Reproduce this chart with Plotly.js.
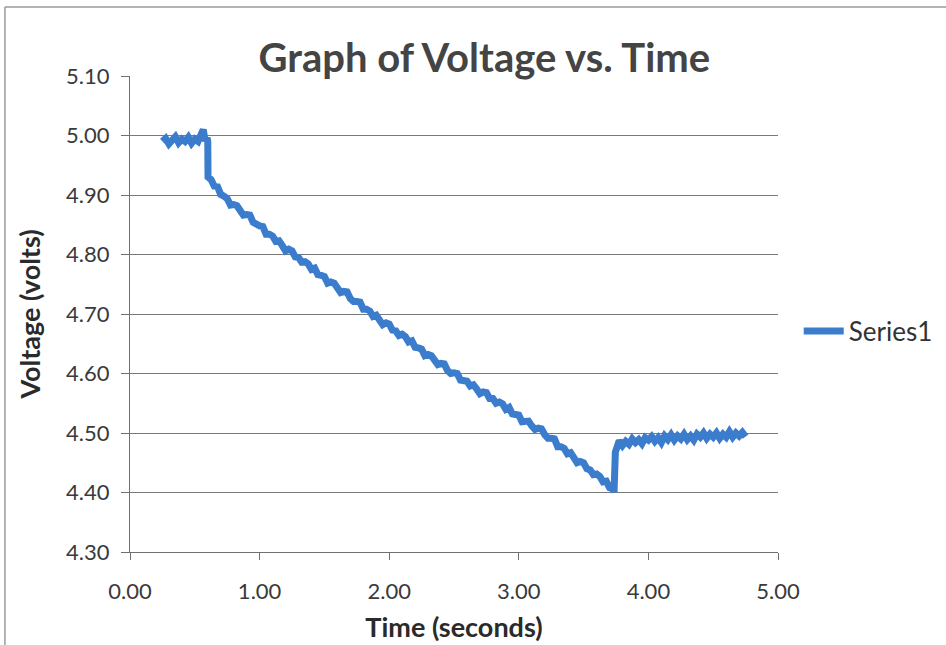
<!DOCTYPE html>
<html>
<head>
<meta charset="utf-8">
<script src="https://cdn.plot.ly/plotly-3.0.1.min.js"></script>
<style>
  html, body { margin: 0; padding: 0; background: #ffffff; }
  #chart { width: 946px; height: 645px; }
</style>
</head>
<body>
<div id="chart"></div>
<script>
// Logged voltage samples (seconds, volts)
const timeSeconds = [
  0.250, 0.275, 0.300, 0.325, 0.350, 0.375, 0.400, 0.425, 0.450, 0.475,
  0.500, 0.525, 0.550, 0.565, 0.580, 0.595, 0.600, 0.602,
  0.625, 0.650, 0.675, 0.700, 0.725, 0.750, 0.775, 0.800, 0.825, 0.850,
  0.875, 0.900, 0.925, 0.950, 0.975, 1.000, 1.025, 1.050, 1.075, 1.100,
  1.125, 1.150, 1.175, 1.200, 1.225, 1.250, 1.275, 1.300, 1.325, 1.350,
  1.375, 1.400, 1.425, 1.450, 1.475, 1.500, 1.525, 1.550, 1.575, 1.600,
  1.625, 1.650, 1.675, 1.700, 1.725, 1.750, 1.775, 1.800, 1.825, 1.850,
  1.875, 1.900, 1.925, 1.950, 1.975, 2.000, 2.025, 2.050, 2.075, 2.100,
  2.125, 2.150, 2.175, 2.200, 2.225, 2.250, 2.275, 2.300, 2.325, 2.350,
  2.375, 2.400, 2.425, 2.450, 2.475, 2.500, 2.525, 2.550, 2.575, 2.600,
  2.625, 2.650, 2.675, 2.700, 2.725, 2.750, 2.775, 2.800, 2.825, 2.850,
  2.875, 2.900, 2.925, 2.950, 2.975, 3.000, 3.025, 3.050, 3.075, 3.100,
  3.125, 3.150, 3.175, 3.200, 3.225, 3.250, 3.275, 3.300, 3.325, 3.350,
  3.375, 3.400, 3.425, 3.450, 3.475, 3.500, 3.525, 3.550, 3.575, 3.600,
  3.625, 3.650, 3.675, 3.700, 3.725, 3.735, 3.745, 3.760,
  3.775, 3.800, 3.825, 3.850, 3.875, 3.900, 3.925, 3.950, 3.975, 4.000,
  4.025, 4.050, 4.075, 4.100, 4.125, 4.150, 4.175, 4.200, 4.225, 4.250,
  4.275, 4.300, 4.325, 4.350, 4.375, 4.400, 4.425, 4.450, 4.475, 4.500,
  4.525, 4.550, 4.575, 4.600, 4.625, 4.650, 4.675, 4.700, 4.725, 4.750
];

const voltageVolts = [
  4.990, 4.995, 4.986, 4.993, 4.998, 4.988, 4.994, 4.990, 4.997, 4.987,
  4.994, 4.990, 4.999, 5.010, 4.991, 4.996, 4.990, 4.930,
  4.926, 4.915, 4.914, 4.901, 4.898, 4.894, 4.883, 4.884, 4.882, 4.873,
  4.866, 4.867, 4.866, 4.854, 4.849, 4.848, 4.847, 4.834, 4.834, 4.831,
  4.822, 4.823, 4.815, 4.806, 4.809, 4.806, 4.796, 4.795, 4.787, 4.788,
  4.784, 4.775, 4.777, 4.766, 4.765, 4.763, 4.752, 4.754, 4.752, 4.743,
  4.736, 4.738, 4.737, 4.726, 4.721, 4.721, 4.720, 4.708, 4.708, 4.705,
  4.696, 4.698, 4.690, 4.682, 4.685, 4.683, 4.673, 4.672, 4.664, 4.666,
  4.662, 4.653, 4.655, 4.644, 4.643, 4.641, 4.630, 4.632, 4.630, 4.622,
  4.615, 4.617, 4.616, 4.605, 4.600, 4.601, 4.600, 4.589, 4.589, 4.587,
  4.579, 4.581, 4.574, 4.566, 4.569, 4.568, 4.558, 4.558, 4.550, 4.552,
  4.549, 4.540, 4.543, 4.532, 4.531, 4.530, 4.519, 4.521, 4.520, 4.512,
  4.506, 4.508, 4.507, 4.497, 4.491, 4.491, 4.490, 4.477, 4.477, 4.474,
  4.465, 4.467, 4.458, 4.450, 4.452, 4.450, 4.440, 4.438, 4.430, 4.431,
  4.427, 4.418, 4.419, 4.408, 4.406, 4.401, 4.468, 4.480,
  4.487, 4.479, 4.486, 4.481, 4.490, 4.484, 4.489, 4.482, 4.492, 4.488,
  4.494, 4.486, 4.492, 4.484, 4.495, 4.489, 4.497, 4.488, 4.495, 4.490,
  4.498, 4.489, 4.495, 4.488, 4.498, 4.493, 4.500, 4.491, 4.498, 4.493,
  4.500, 4.491, 4.498, 4.493, 4.502, 4.493, 4.500, 4.495, 4.501, 4.494
];

const seriesName = 'Series1';
const chartTitle = 'Graph of Voltage vs. Time';
const xTitle = 'Time (seconds)';
const yTitle = 'Voltage (volts)';

const baseFont = 'Lato, "Open Sans", "DejaVu Sans", sans-serif';
const lineBlue = '#3b7dcc';
const gridGray = '#7a7a7a';

const trace = {
  x: timeSeconds,
  y: voltageVolts,
  type: 'scatter',
  mode: 'lines',
  name: seriesName,
  line: { color: lineBlue, width: 7 },
  showlegend: true
};

const layout = {
  width: 946,
  height: 645,
  paper_bgcolor: '#ffffff',
  plot_bgcolor: '#ffffff',
  margin: { l: 130, r: 168, t: 76, b: 93, autoexpand: false },
  font: { family: baseFont, color: '#3a3a3a', size: 22 },
  title: {
    text: chartTitle,
    font: { family: baseFont, size: 40, color: '#444444', weight: 'bold' },
    x: 0.512, xanchor: 'center',
    y: 0.91, yanchor: 'middle'
  },
  xaxis: {
    range: [0, 5],
    dtick: 1,
    tick0: 0,
    tickformat: '.2f',
    ticks: 'outside',
    ticklen: 7,
    tickcolor: '#707070',
    ticklabelstandoff: 13,
    showline: true,
    linecolor: '#707070',
    linewidth: 1,
    showgrid: false,
    zeroline: false,
    automargin: false,
    tickfont: { family: baseFont, size: 22, color: '#3a3a3a' },
    title: {
      text: xTitle,
      font: { family: baseFont, size: 27, color: '#2a2a2a', weight: 'bold' },
      standoff: 14
    }
  },
  yaxis: {
    range: [4.3, 5.1],
    dtick: 0.1,
    tick0: 4.3,
    tickformat: '.2f',
    ticks: 'outside',
    ticklen: 8,
    tickcolor: '#707070',
    ticklabelstandoff: 7,
    showline: true,
    linecolor: '#707070',
    linewidth: 1,
    showgrid: true,
    gridcolor: gridGray,
    gridwidth: 1,
    zeroline: false,
    automargin: false,
    tickfont: { family: baseFont, size: 22, color: '#3a3a3a' },
    title: {
      text: yTitle,
      font: { family: baseFont, size: 27, color: '#2a2a2a', weight: 'bold' },
      standoff: 17
    }
  },
  legend: {
    x: 1.032, xanchor: 'left',
    y: 0.464, yanchor: 'middle',
    bgcolor: 'rgba(0,0,0,0)',
    font: { family: baseFont, size: 26, color: '#333333' },
    itemwidth: 40
  },
  shapes: [
    // chart frame: top and left edges
    { type: 'line', xref: 'paper', yref: 'paper', x0: -0.193, x1: 1.3, y0: 1.145, y1: 1.145,
      line: { color: '#9a9a9a', width: 1.5 } },
    { type: 'line', xref: 'paper', yref: 'paper', x0: -0.193, x1: -0.193, y0: 1.145, y1: -0.3,
      line: { color: '#9a9a9a', width: 1.5 } }
  ]
};

Plotly.newPlot('chart', [trace], layout, { displayModeBar: false, staticPlot: true });
</script>
</body>
</html>
